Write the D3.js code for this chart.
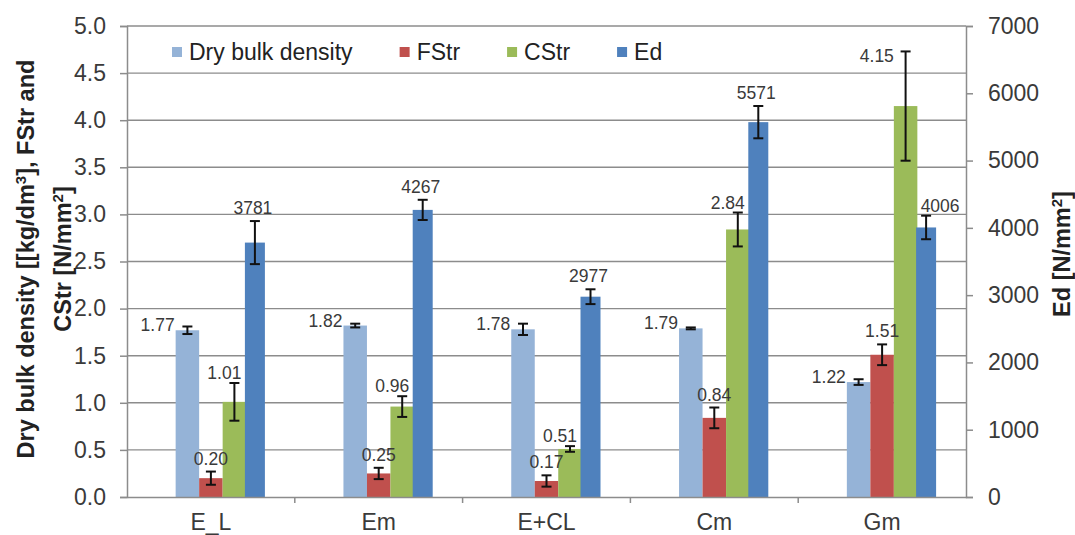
<!DOCTYPE html>
<html>
<head>
<meta charset="utf-8">
<script src="https://cdn.jsdelivr.net/npm/d3@7"></script>
<style>
  html, body { margin: 0; padding: 0; background: #fff; }
  svg { display: block; font-family: "Liberation Sans", Arial, sans-serif; }
</style>
</head>
<body>
<svg id="chart" width="1075" height="535"></svg>
<script>
// Sample groups and measured properties
const categories = ["E_L", "Em", "E+CL", "Cm", "Gm"];

const dryBulkDensity = [1.77, 1.82, 1.78, 1.79, 1.22];   // kg/dm3
const fstr           = [0.20, 0.25, 0.17, 0.84, 1.51];   // N/mm2
const cstr           = [1.01, 0.96, 0.51, 2.84, 4.15];   // N/mm2
const ed             = [3781, 4267, 2977, 5571, 4006];   // N/mm2 (right axis)

// Standard deviations shown as error bars
const dryBulkDensitySd = [0.04, 0.02, 0.06, 0.01, 0.03];
const fstrSd           = [0.07, 0.06, 0.06, 0.11, 0.11];
const cstrSd           = [0.20, 0.11, 0.03, 0.18, 0.58];
const edSd             = [320, 150, 110, 240, 175];

const leftTicks  = [0, 0.5, 1.0, 1.5, 2.0, 2.5, 3.0, 3.5, 4.0, 4.5, 5.0];
const rightTicks = [0, 1000, 2000, 3000, 4000, 5000, 6000, 7000];

const seriesNames = ["Dry bulk density", "FStr", "CStr", "Ed"];
const colors = {
  "Dry bulk density": "#95B3D7",
  "FStr": "#C0504D",
  "CStr": "#9BBB59",
  "Ed": "#4F81BD"
};

const svg = d3.select("#chart");
svg.append("rect").attr("width", 1075).attr("height", 535).attr("fill", "#fff");

const plot = { left: 127, right: 966, top: 26, bottom: 497 };
const gridColor = "#8c8c8c";
const textColor = "#3a3a3a";
const tickFont = 23;

const x = d3.scaleBand().domain(categories).range([plot.left, plot.right]);
const primary = ["Dry bulk density", "FStr", "CStr"];
const xInner = d3.scaleBand().domain(primary).range([-35.25, 35.25]);
const edBar = { offset: 34, width: 20 };

const yL = d3.scaleLinear().domain([0, 5]).range([plot.bottom, plot.top]);
const yR = d3.scaleLinear().domain([0, 7000]).range([plot.bottom, plot.top]);

// Horizontal gridlines
svg.append("g").selectAll("line").data(leftTicks.filter(d => d > 0)).join("line")
  .attr("x1", plot.left).attr("x2", plot.right)
  .attr("y1", d => yL(d)).attr("y2", d => yL(d))
  .attr("stroke", gridColor).attr("stroke-width", 1.4);

// Build per-bar records
const rows = [];
categories.forEach((c, i) => {
  rows.push({ cat: c, i, series: "Dry bulk density", value: dryBulkDensity[i], sd: dryBulkDensitySd[i], y: yL });
  rows.push({ cat: c, i, series: "FStr", value: fstr[i], sd: fstrSd[i], y: yL });
  rows.push({ cat: c, i, series: "CStr", value: cstr[i], sd: cstrSd[i], y: yL });
  rows.push({ cat: c, i, series: "Ed", value: ed[i], sd: edSd[i], y: yR });
});
const center = x.bandwidth() / 2;
function barX(d) {
  const c = x(d.cat) + center;
  return d.series === "Ed" ? c + edBar.offset : c + xInner(d.series);
}
function barW(d) { return d.series === "Ed" ? edBar.width : xInner.bandwidth(); }
function barMid(d) { return barX(d) + barW(d) / 2; }

// Bars
svg.append("g").selectAll("rect").data(rows).join("rect")
  .attr("x", barX)
  .attr("width", barW)
  .attr("y", d => d.y(d.value))
  .attr("height", d => d.y(0) - d.y(d.value))
  .attr("fill", d => colors[d.series]);

// Error bars
const eb = svg.append("g").attr("stroke", "#111").attr("stroke-width", 2);
rows.forEach(d => {
  const mx = barMid(d), top = d.y(d.value + d.sd), bot = d.y(d.value - d.sd);
  eb.append("line").attr("x1", mx).attr("x2", mx).attr("y1", top).attr("y2", bot);
  eb.append("line").attr("x1", mx - 5).attr("x2", mx + 5).attr("y1", top).attr("y2", top);
  eb.append("line").attr("x1", mx - 5).attr("x2", mx + 5).attr("y1", bot).attr("y2", bot);
});

// Value labels
const fmt2 = d3.format(".2f"), fmt0 = d3.format("d");
function labelPos(d) {
  const top = d.y(d.value + d.sd);
  if (d.series === "Dry bulk density") return { x: barX(d) - 1, y: d.y(d.value) + 1, anchor: "end" };
  if (d.series === "FStr") return { x: barMid(d), y: top - 7, anchor: "middle" };
  if (d.series === "CStr") {
    if (d.cat === "Gm") return { x: barX(d), y: top + 11, anchor: "end" };
    return { x: barMid(d) - 10, y: top - 4, anchor: "middle" };
  }
  if (d.cat === "Gm") return { x: barMid(d) + 14, y: top - 4, anchor: "middle" };
  return { x: barMid(d) - 2, y: top - 7, anchor: "middle" };
}
svg.append("g").selectAll("text").data(rows).join("text")
  .each(function (d) {
    const p = labelPos(d);
    d3.select(this).attr("x", p.x).attr("y", p.y).attr("text-anchor", p.anchor);
  })
  .attr("font-size", 17.5)
  .attr("fill", textColor)
  .text(d => d.series === "Ed" ? fmt0(d.value) : fmt2(d.value));

// Left axis
const axL = svg.append("g").attr("transform", `translate(${plot.left},0)`)
  .call(d3.axisLeft(yL).tickValues(leftTicks).tickFormat(d3.format(".1f")).tickSize(7).tickPadding(14));
// Right axis
const axR = svg.append("g").attr("transform", `translate(${plot.right},0)`)
  .call(d3.axisRight(yR).tickValues(rightTicks).tickFormat(d3.format("d")).tickSize(7).tickPadding(15));
// Category axis
const axB = svg.append("g").attr("transform", `translate(0,${plot.bottom})`)
  .call(d3.axisBottom(x).tickSize(0).tickPadding(17));
axB.selectAll(".tick").attr("transform", d => `translate(${x(d) + center},0)`);
// Tick marks between categories
axB.selectAll(".sep").data(d3.range(1, categories.length)).join("line")
  .attr("class", "sep")
  .attr("x1", i => plot.left + x.step() * i).attr("x2", i => plot.left + x.step() * i)
  .attr("y1", 0).attr("y2", 6)
  .attr("stroke", gridColor).attr("stroke-width", 1.5);

[axL, axR, axB].forEach(a => {
  a.select(".domain").attr("stroke", gridColor).attr("stroke-width", 1.5);
  a.selectAll(".tick line").attr("stroke", gridColor).attr("stroke-width", 1.5);
  a.selectAll("text").attr("font-size", tickFont).attr("fill", textColor)
    .attr("font-family", "'Liberation Sans', Arial, sans-serif");
});

// Axis titles
function axisTitle(tx, ty, before, sup, after) {
  const t = svg.append("text")
    .attr("transform", `translate(${tx},${ty}) rotate(-90)`)
    .attr("text-anchor", "middle").attr("font-size", 23.5).attr("font-weight", "bold").attr("fill", "#222");
  t.append("tspan").text(before);
  t.append("tspan").attr("baseline-shift", "super").attr("font-size", 15).text(sup);
  t.append("tspan").text(after);
  return t;
}
axisTitle(34, 259, "Dry bulk density [[kg/dm", "3", "], FStr and");
axisTitle(71, 259, "CStr [N/mm", "2", "]");
axisTitle(1070, 254, "Ed [N/mm", "2", "]");

// Legend
const legend = svg.append("g");
let lx = 172;
seriesNames.forEach(name => {
  legend.append("rect").attr("x", lx).attr("y", 47).attr("width", 10).attr("height", 10)
    .attr("fill", colors[name]);
  const t = legend.append("text").attr("x", lx + 17).attr("y", 59.5)
    .attr("font-size", tickFont).attr("fill", "#222").text(name);
  lx = lx + 17 + t.node().getComputedTextLength() + 47;
});
</script>
</body>
</html>
